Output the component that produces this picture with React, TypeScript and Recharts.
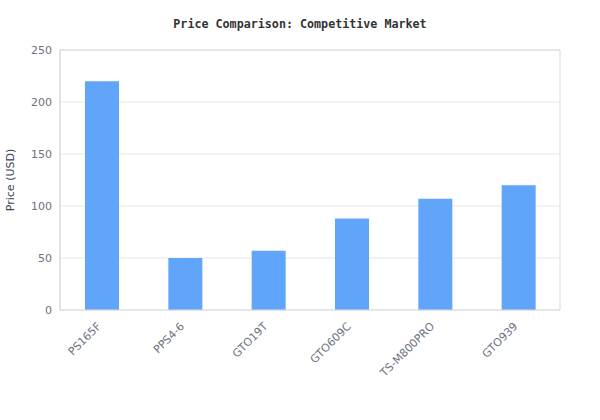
import { BarChart, Bar, XAxis, YAxis, CartesianGrid } from 'recharts'

const models = ['PS165F', 'PPS4-6', 'GTO19T', 'GTO609C', 'TS-M800PRO', 'GTO939']
const prices = [220, 50, 57, 88, 107, 120]
const priceTicks = [0, 50, 100, 150, 200, 250]

const data = models.map((model, i) => ({ model, price: prices[i] }))

const font = 'DejaVu Sans, sans-serif'
const tickStyle = { fill: '#6b7280', fontSize: 11, fontFamily: font }

// rotated category label, hung a little below the axis
function ModelTick({ x, y, payload }: any) {
  const ty = y + 9
  return (
    <text
      x={x}
      y={ty}
      textAnchor="end"
      transform={`rotate(-45, ${x}, ${ty})`}
      fill="#6b7280"
      fontSize={11}
      fontFamily={font}
    >
      {payload.value}
    </text>
  )
}

export default function App() {
  return (
    <div style={{ position: 'absolute', left: 0, top: 0, width: 600, height: 420, background: '#fff' }}>
      <div
        style={{
          position: 'absolute',
          top: 17,
          width: 600,
          textAlign: 'center',
          fontFamily: 'DejaVu Sans Mono, monospace',
          fontWeight: 'bold',
          fontSize: 11.7,
          color: '#333',
        }}
      >
        Price Comparison: Competitive Market
      </div>
      <BarChart width={600} height={420} data={data} margin={{ top: 50, right: 40, bottom: 0, left: 0 }}>
        <CartesianGrid vertical={false} stroke="#e5e7eb" />
        {/* frame round the plot area */}
        <CartesianGrid
          stroke="#d9d9d9"
          horizontalCoordinatesGenerator={({ offset }: any) => [offset.top]}
          verticalCoordinatesGenerator={({ offset }: any) => [offset.left, offset.left + offset.width]}
        />
        <XAxis
          dataKey="model"
          height={110}
          interval={0}
          tickLine={false}
          stroke="#d9d9d9"
          tick={<ModelTick />}
        />
        <YAxis
          domain={[0, 250]}
          ticks={priceTicks}
          width={60}
          tickLine={false}
          stroke="#d9d9d9"
          tick={tickStyle}
          label={{
            value: 'Price (USD)',
            angle: -90,
            position: 'insideLeft',
            offset: 10,
            style: { textAnchor: 'middle', fill: '#374151', fontSize: 11, fontFamily: font },
          }}
        />
        <Bar dataKey="price" fill="#60a5fa" barSize={34} isAnimationActive={false} />
      </BarChart>
    </div>
  )
}
